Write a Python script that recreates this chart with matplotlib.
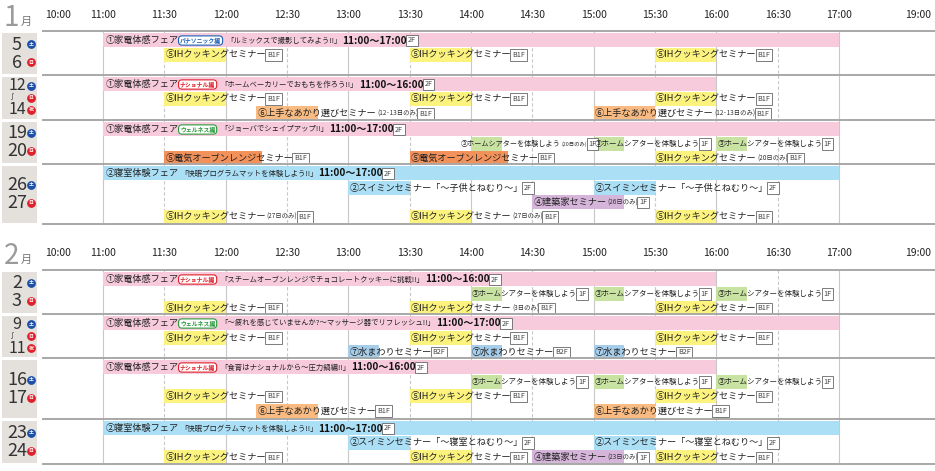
import matplotlib
matplotlib.use("Agg")
import matplotlib.pyplot as plt
import numpy as np
from matplotlib.patches import Rectangle

plt.rcParams['font.family'] = ['Noto Sans CJK JP', 'DejaVu Sans']

# ---------------- data ----------------
tick_labels = ["10:00","11:00","11:30","12:00","12:30","13:00","13:30","14:00","14:30","15:00","15:30","16:00","16:30","17:00","19:00"]
tick_hours = [10,11,11.5,12,12.5,13,13.5,14,14.5,15,15.5,16,16.5,17,19]
# axis scale: hour -> pixel (non-linear scale of the original)
scale_hours = [10, 11, 17, 19]
scale_px = [43, 103, 839, 918]
label_px_10, label_px_19 = 58, 918

def X(h):
    return float(np.interp(h, scale_hours, scale_px))

groups_top = [31, 75, 120, 164, 270, 314, 358, 419]
groups_bot = [75, 120, 164, 224, 314, 358, 419, 464]
group_dates = [
    [("5","土"),("6","日")],
    [("12","土"),("〜","日"),("14","祝")],
    [("19","土"),("20","日")],
    [("26","土"),("27","日")],
    [("2","土"),("3","日")],
    [("9","土"),("〜","日"),("11","祝")],
    [("16","土"),("17","日")],
    [("23","土"),("24","日")],
]

fairs = [
    (0, 11, 17, "①家電体感フェア", "パナソニック編", "「ルミックスで撮影してみよう!!」", "11:00〜17:00", "2F", "pink"),
    (1, 11, 16, "①家電体感フェア", "ナショナル編", "「ホームベーカリーでおもちを作ろう!!」", "11:00〜16:00", "2F", "pink"),
    (2, 11, 17, "①家電体感フェア", "ウェルネス編", "「ジョーバでシェイプアップ!!」", "11:00〜17:00", "2F", "pink"),
    (3, 11, 17, "②寝室体験フェア", "", "「快眠プログラムマットを体験しよう!!」", "11:00〜17:00", "2F", "blue"),
    (4, 11, 16, "①家電体感フェア", "ナショナル編", "「スチームオーブンレンジでチョコレートクッキーに挑戦!!」", "11:00〜16:00", "2F", "pink"),
    (5, 11, 17, "①家電体感フェア", "ウェルネス編", "「〜疲れを感じていませんか?〜マッサージ器でリフレッシュ!!」", "11:00〜17:00", "2F", "pink"),
    (6, 11, 16, "①家電体感フェア", "ナショナル編", "「食育はナショナルから〜圧力鍋編!!」", "11:00〜16:00", "2F", "pink"),
    (7, 11, 17, "②寝室体験フェア", "", "「快眠プログラムマットを体験しよう!!」", "11:00〜17:00", "2F", "blue"),
]

IH = "⑤IHクッキングセミナー"
HT = "③ホームシアターを体験しよう"
AK = "⑥上手なあかり選びセミナー"
seminars = [
    (0,1,11.5,12,IH,"","B1F","yellow"),(0,1,13.5,14,IH,"","B1F","yellow"),(0,1,15.5,16,IH,"","B1F","yellow"),
    (1,1,11.5,12,IH,"","B1F","yellow"),(1,1,13.5,14,IH,"","B1F","yellow"),(1,1,15.5,16,IH,"","B1F","yellow"),
    (1,2,12.25,12.75,AK,"(12･13日のみ)","B1F","lorange"),(1,2,15,15.5,AK,"(12･13日のみ)","B1F","lorange"),
    (2,1,14,14.25,HT,"(20日のみ)","1F","green"),(2,1,15,15.25,HT,"","1F","green"),(2,1,16,16.25,HT,"","1F","green"),
    (2,2,11.5,12.3,"⑤電気オーブンレンジセミナー","","B1F","orange"),(2,2,13.5,14.3,"⑤電気オーブンレンジセミナー","","B1F","orange"),
    (2,2,15.5,16,IH,"(20日のみ)","B1F","yellow"),
    (3,1,13,13.5,"②スイミンセミナー「〜子供とねむり〜」","","2F","blue"),(3,1,15,15.5,"②スイミンセミナー「〜子供とねむり〜」","","2F","blue"),
    (3,2,14.5,15.25,"④建築家セミナー","(26日のみ)","1F","purple"),
    (3,3,11.5,12,IH,"(27日のみ)","B1F","yellow"),(3,3,13.5,14,IH,"(27日のみ)","B1F","yellow"),(3,3,15.5,16,IH,"","B1F","yellow"),
    (4,1,14,14.25,HT,"","1F","green"),(4,1,15,15.25,HT,"","1F","green"),(4,1,16,16.25,HT,"","1F","green"),
    (4,2,11.5,12,IH,"","B1F","yellow"),(4,2,13.5,14,IH,"(3日のみ)","B1F","yellow"),(4,2,15.5,16,IH,"","B1F","yellow"),
    (5,1,11.5,12,IH,"","B1F","yellow"),(5,1,13.5,14,IH,"","B1F","yellow"),(5,1,15.5,16,IH,"","B1F","yellow"),
    (5,2,13,13.25,"⑦水まわりセミナー","","B2F","water"),(5,2,14,14.25,"⑦水まわりセミナー","","B2F","water"),(5,2,15,15.25,"⑦水まわりセミナー","","B2F","water"),
    (6,1,14,14.25,HT,"","1F","green"),(6,1,15,15.25,HT,"","1F","green"),(6,1,16,16.25,HT,"","1F","green"),
    (6,2,11.5,12,IH,"","B1F","yellow"),(6,2,13.5,14,IH,"","B1F","yellow"),(6,2,15.5,16,IH,"","B1F","yellow"),
    (6,3,12.25,12.75,AK,"","B1F","lorange"),(6,3,15,15.5,AK,"","B1F","lorange"),
    (7,1,13,13.5,"②スイミンセミナー「〜寝室とねむり〜」","","2F","blue"),(7,1,15,15.5,"②スイミンセミナー「〜寝室とねむり〜」","","2F","blue"),
    (7,2,11.5,12,IH,"","B1F","yellow"),(7,2,13.5,14,IH,"","B1F","yellow"),
    (7,2,14.5,15.25,"④建築家セミナー","(23日のみ)","1F","purple"),(7,2,15.5,16,IH,"","B1F","yellow"),
]

colors = {"pink":"#f7cbdc","blue":"#aadff6","yellow":"#fcf37f","lorange":"#f9bb82","orange":"#f2915a",
          "green":"#c8e2a2","purple":"#d6b5da","water":"#a6cdea"}
maker_col = {"パナソニック編":"#1a5fb4","ナショナル編":"#e0202a","ウェルネス編":"#2a9a3a"}
day_col = {"土":"#1c4fa8","日":"#e0202a","祝":"#e0202a"}

# ---------------- figure ----------------
fig = plt.figure(figsize=(9.35, 4.71), dpi=100)
ax = fig.add_axes([0, 0, 1, 1])
ax.set_xlim(0, 935); ax.set_ylim(471, 0); ax.axis("off")
renderer = fig.canvas.get_renderer()
ROWH = 14.5

def seq(x, y, parts):
    for txt, kw in parts:
        t = ax.text(x, y, txt, va="center", ha="left", zorder=5, **kw)
        bb = t.get_window_extent(renderer)
        x = bb.x1 + (5 if "bbox" in kw else 1)
    return x

def floorbox(f):
    return (f, dict(fontsize=5.2, color="#444",
                    bbox=dict(boxstyle="square,pad=0.25", fc="white", ec="#666", lw=0.6)))

for y0, m in [(0, "1"), (238, "2")]:
    ax.text(4, y0 + 18, m, fontsize=20, color="#9a9a9a", va="center", ha="left")
    ax.text(21, y0 + 22, "月", fontsize=8, color="#777", va="center", ha="left")
for lab, h in zip(tick_labels, tick_hours):
    xp = label_px_10 if h == 10 else (label_px_19 if h == 19 else X(h))
    for y0 in (15, 253):
        ax.text(xp, y0, lab, fontsize=7.5, ha="center", va="center", color="#222")

for g, (top, bot) in enumerate(zip(groups_top, groups_bot)):
    for h in tick_hours[1:-1]:
        ls = "-" if h % 1 == 0 else (0, (3, 2))
        ax.plot([X(h), X(h)], [top, bot], color="#c8c8c8", lw=0.8, ls=ls, zorder=1)
    ax.plot([43, 935], [top, top], color="#a8a8a8", lw=1.4, zorder=6)
    ax.add_patch(Rectangle((2, top + 2), 35, bot - top - 3, fc="#e4e1dd", ec="none"))
    ds = group_dates[g]
    n = len(ds)
    mid = (top + bot) / 2
    step = 18 if n == 2 else 12
    for i, (d, w) in enumerate(ds):
        yy = mid + (i - (n - 1) / 2) * step
        if d == "〜":
            ax.text(12, yy, "∫", fontsize=5, ha="center", va="center", color="#333")
        else:
            ax.text(17, yy + 0.5, d, fontsize=13 if n == 2 else 11.5, ha="center", va="center", color="#333")
        ax.scatter([31], [yy], s=28, color=day_col[w], zorder=5)
        ax.text(31, yy, w, fontsize=3.5, color="white", ha="center", va="center", zorder=6, fontweight="bold")
for bot in (224, 464):
    ax.plot([43, 935], [bot, bot], color="#a8a8a8", lw=1.4, zorder=6)

for g, s, e, title, maker, theme, tm, fl, c in fairs:
    top = groups_top[g] + 2
    ax.add_patch(Rectangle((X(s), top), X(e) - X(s), 14, fc=colors[c], ec="none", zorder=2))
    parts = [(title, dict(fontsize=6.6, color="#222"))]
    if maker:
        parts.append((maker, dict(fontsize=4.2, color=maker_col[maker], fontweight="bold",
                                   bbox=dict(boxstyle="round,pad=0.25,rounding_size=0.6", fc="white", ec=maker_col[maker], lw=0.8))))
    parts += [(theme, dict(fontsize=5.3, color="#222")),
              (tm, dict(fontsize=7.2, color="#111", fontweight="bold")),
              floorbox(fl)]
    seq(X(s) + 3, top + 7.5, parts)

for g, r, s, e, title, note, fl, c in seminars:
    top = groups_top[g] + 2 + r * ROWH
    ax.add_patch(Rectangle((X(s), top), X(e) - X(s), ROWH - 0.5, fc=colors[c], ec="none", zorder=2))
    small = title == HT
    tight = small and note
    parts = [(title, dict(fontsize=5.1 if tight else (5.4 if small else 6.6), color="#222"))]
    if note:
        parts.append((note, dict(fontsize=3.9 if small else 4.6, color="#333")))
    parts.append(floorbox(fl))
    x0 = X(s) - 10 if tight else X(s) + 1
    seq(x0, top + 7.5, parts)

fig.savefig("out.png", dpi=100)
